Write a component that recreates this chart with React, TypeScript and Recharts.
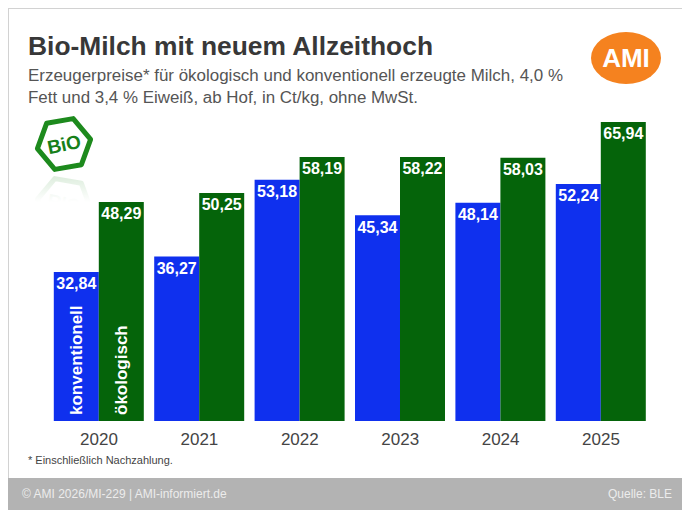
import { Bar, BarChart, LabelList, XAxis, YAxis } from "recharts";

const years = ["2020", "2021", "2022", "2023", "2024", "2025"];
const konventionell = [32.84, 36.27, 53.18, 45.34, 48.14, 52.24];
const oekologisch = [48.29, 50.25, 58.19, 58.22, 58.03, 65.94];

const data = years.map((year, i) => ({ year, konv: konventionell[i], oeko: oekologisch[i] }));

const FONT = "'Liberation Sans', Arial, sans-serif";
const BLUE = "#0f30ee";
const GREEN = "#05640a";

const fmt = (v: any) => Number(v).toFixed(2).replace(".", ",");

// rotated series name inside the first bar only
const seriesName = (name: string) => (props: any) => {
  if (props.index !== 0) return null;
  const cx = Number(props.x) + Number(props.width) / 2;
  const bottom = Number(props.y) + Number(props.height) - 6;
  return (
    <text
      x={cx}
      y={bottom}
      dy="0.36em"
      transform={`rotate(-90 ${cx} ${bottom})`}
      fill="#fff"
      fontWeight="bold"
      fontSize={17}
      fontFamily={FONT}
    >
      {name}
    </text>
  );
};

function hexPoints(cx: number, cy: number, r: number, start: number) {
  const pts: string[] = [];
  for (let k = 0; k < 6; k++) {
    const a = ((start + k * 60) * Math.PI) / 180;
    pts.push(`${(cx + r * Math.cos(a)).toFixed(1)},${(cy + r * Math.sin(a)).toFixed(1)}`);
  }
  return pts.join(" ");
}

function BioLogo() {
  const hex = (
    <g>
      <polygon points={hexPoints(64, 144, 27, -10)} fill="#fff" stroke="#1d8a1d" strokeWidth={5} strokeLinejoin="round" />
      <text
        x={64}
        y={151}
        textAnchor="middle"
        fontSize={19}
        fontWeight="bold"
        fill="#17801a"
        fontFamily={FONT}
        transform="rotate(-12 64 144)"
      >
        BiO
      </text>
    </g>
  );
  return (
    <g>
      <defs>
        <linearGradient id="fade" x1="0" y1="0" x2="0" y2="1">
          <stop offset="0" stopColor="#fff" stopOpacity={0.55} />
          <stop offset="1" stopColor="#fff" stopOpacity={1} />
        </linearGradient>
        <clipPath id="reflClip">
          <rect x={20} y={174} width={100} height={28} />
        </clipPath>
      </defs>
      {hex}
      <g clipPath="url(#reflClip)">
        <g transform="translate(0 348) scale(1 -1)" opacity={0.35}>
          {hex}
        </g>
        <rect x={20} y={174} width={100} height={28} fill="url(#fade)" />
      </g>
    </g>
  );
}

function Backdrop() {
  return (
    <svg width={682} height={510} style={{ position: "absolute", left: 0, top: 0 }}>
      <rect x={0} y={0} width={682} height={510} fill="#fff" />
      <line x1={8} y1={8.5} x2={682} y2={8.5} stroke="#d2d2d2" />
      <line x1={8.5} y1={8} x2={8.5} y2={478} stroke="#d2d2d2" />
      <text x={28} y={55} fontSize={26} fontWeight="bold" fill="#383838" fontFamily={FONT} textLength={405} lengthAdjust="spacingAndGlyphs">
        Bio-Milch mit neuem Allzeithoch
      </text>
      <text x={28} y={81} fontSize={16} fill="#555" fontFamily={FONT} textLength={535} lengthAdjust="spacingAndGlyphs">
        Erzeugerpreise* für ökologisch und konventionell erzeugte Milch, 4,0 %
      </text>
      <text x={28} y={103} fontSize={16} fill="#555" fontFamily={FONT} textLength={390} lengthAdjust="spacingAndGlyphs">
        Fett und 3,4 % Eiweiß, ab Hof, in Ct/kg, ohne MwSt.
      </text>
      <ellipse cx={626} cy={58} rx={35} ry={26} fill="#f5821f" />
      <text x={626} y={67} textAnchor="middle" fontSize={26} fontWeight="bold" fill="#fff" fontFamily={FONT}>
        AMI
      </text>
      <BioLogo />
      <text x={28} y={464} fontSize={11} fill="#444" fontFamily={FONT}>
        * Einschließlich Nachzahlung.
      </text>
      <rect x={8} y={478} width={674} height={32} fill="#b3b3b3" />
      <text x={22} y={498} fontSize={12} fill="#ececec" fontFamily={FONT}>
        © AMI 2026/MI-229 | AMI-informiert.de
      </text>
      <text x={672} y={498} textAnchor="end" fontSize={12} fill="#ececec" fontFamily={FONT}>
        Quelle:  BLE
      </text>
    </svg>
  );
}

export default function App() {
  return (
    <div style={{ position: "relative", width: 682, height: 510, overflow: "hidden" }}>
      <style>{`body{margin:0}`}</style>
      <Backdrop />
      <div style={{ position: "absolute", left: 0, top: 0 }}>
        <BarChart
          width={682}
          height={510}
          data={data}
          margin={{ top: 103.5, right: 30.8, bottom: 59, left: 48.8 }}
          barSize={45}
          barGap={0}
        >
          <XAxis
            dataKey="year"
            axisLine={false}
            tickLine={false}
            tickSize={0}
            tickMargin={12}
            interval={0}
            tick={{ fontSize: 17, fill: "#444", fontFamily: FONT }}
          />
          <YAxis hide domain={[0, 70]} />
          <Bar dataKey="konv" fill={BLUE} isAnimationActive={false}>
            <LabelList
              dataKey="konv"
              position="insideTop"
              offset={6}
              formatter={fmt}
              fill="#fff"
              fontSize={16}
              fontWeight="bold"
              fontFamily={FONT}
            />
            <LabelList dataKey="konv" content={seriesName("konventionell")} />
          </Bar>
          <Bar dataKey="oeko" fill={GREEN} isAnimationActive={false}>
            <LabelList
              dataKey="oeko"
              position="insideTop"
              offset={6}
              formatter={fmt}
              fill="#fff"
              fontSize={16}
              fontWeight="bold"
              fontFamily={FONT}
            />
            <LabelList dataKey="oeko" content={seriesName("ökologisch")} />
          </Bar>
        </BarChart>
      </div>
    </div>
  );
}
